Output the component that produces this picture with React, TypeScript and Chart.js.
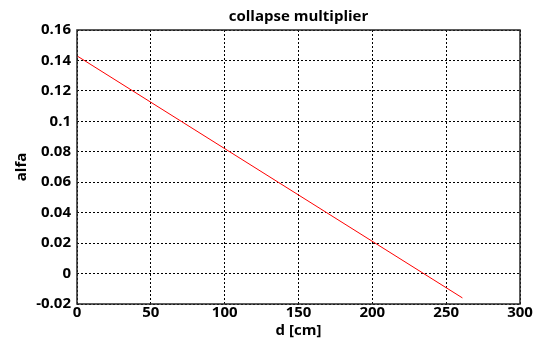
import React, { useEffect, useRef } from "react";
import { Chart, registerables } from "chart.js";

Chart.register(...registerables);

const chartTitle = "collapse multiplier";
const xTitle = "d [cm]";
const yTitle = "alfa";
const dValues = [0, 261];
const alfaValues = [0.143, -0.016];
const xMin = 0, xMax = 300, xStep = 50;
const yMin = -0.02, yMax = 0.16, yStep = 0.02;

const FONT = "'Open Sans', 'DejaVu Sans', sans-serif";

const boxPlugin = {
  id: "boxAndTitle",
  afterDraw(chart: any) {
    const { ctx, chartArea } = chart;
    ctx.save();
    ctx.strokeStyle = "#262626";
    ctx.lineWidth = 1.5;
    ctx.setLineDash([]);
    ctx.strokeRect(chartArea.left, chartArea.top, chartArea.right - chartArea.left, chartArea.bottom - chartArea.top);
    ctx.fillStyle = "#000";
    ctx.font = `bold 15px ${FONT}`;
    ctx.textAlign = "center";
    ctx.textBaseline = "middle";
    ctx.fillText(chartTitle, (chartArea.left + chartArea.right) / 2, 17);
    ctx.restore();
  },
};

const fmt = (v: any) => String(Number(Number(v).toFixed(4)));

export default function App() {
  const ref = useRef<HTMLCanvasElement>(null);
  useEffect(() => {
    if (!ref.current) return;
    const chart = new Chart(ref.current, {
      type: "scatter",
      data: {
        datasets: [
          {
            data: dValues.map((d, i) => ({ x: d, y: alfaValues[i] })),
            showLine: true,
            borderColor: "#ff0000",
            borderWidth: 1,
            pointRadius: 0,
            fill: false,
          },
        ],
      },
      options: {
        animation: false,
        responsive: false,
        devicePixelRatio: 1,
        layout: { padding: { left: 0, right: 19, top: 30, bottom: 0 } },
        plugins: { legend: { display: false }, tooltip: { enabled: false }, title: { display: false } },
        scales: {
          x: {
            type: "linear",
            min: xMin,
            max: xMax,
            afterFit: (s: any) => { s.height = 36; },
            ticks: { stepSize: xStep, color: "#000", font: { family: FONT, size: 15, weight: "bold" }, padding: 0, maxRotation: 0, callback: fmt },
            grid: { color: "#000", lineWidth: 1, drawTicks: false },
            border: { display: false, dash: [2, 2] },
            title: { display: true, text: xTitle, color: "#000", font: { family: FONT, size: 15, weight: "bold" }, padding: { top: 0, bottom: 0 } },
          },
          y: {
            type: "linear",
            min: yMin,
            max: yMax,
            afterFit: (s: any) => { s.width = 77; },
            ticks: { stepSize: yStep, color: "#000", font: { family: FONT, size: 15, weight: "bold" }, padding: 6, callback: fmt },
            grid: { color: "#000", lineWidth: 1, drawTicks: false },
            border: { display: false, dash: [2, 2] },
            title: { display: true, text: yTitle, color: "#000", font: { family: FONT, size: 15, weight: "bold" }, padding: { top: 13, bottom: 0 } },
          },
        },
      },
      plugins: [boxPlugin],
    });
    return () => chart.destroy();
  }, []);
  return (
    <div style={{ position: "fixed", left: 0, top: 0, width: 539, height: 340, background: "#fff" }}>
      <canvas ref={ref} width={539} height={340} />
    </div>
  );
}
